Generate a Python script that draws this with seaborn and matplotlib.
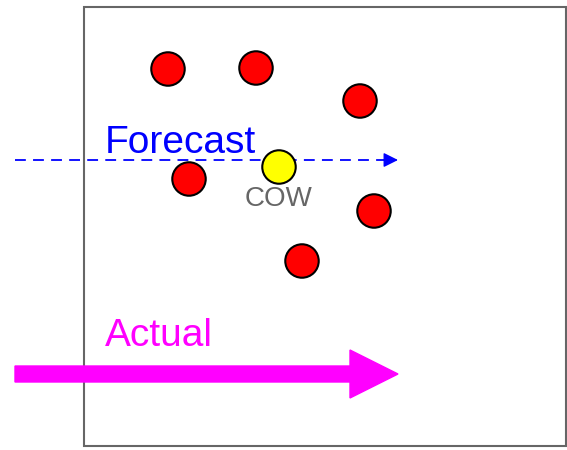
import pandas as pd
import matplotlib.pyplot as plt
import seaborn as sns
from matplotlib.patches import Rectangle

# -----------------------------
# Data (picture coordinates, pixels)
# -----------------------------
dot_x = [168, 256, 360, 189, 374, 302, 279]
dot_y = [69, 68, 101, 179, 211, 261, 167]
dot_kind = ["other"] * 6 + ["cow"]

forecast_y = 160
actual_y = 374
arrow_start = 15
arrow_end = 398

df = pd.DataFrame({"x": dot_x, "y": dot_y, "kind": dot_kind})

sns.set_style("white")
plt.rcParams["font.family"] = ["Liberation Sans", "DejaVu Sans"]

fig = plt.figure(figsize=(5.67, 4.5), dpi=100)
ax = fig.add_axes([0, 0, 1, 1])
ax.set_xlim(0, 567)
ax.set_ylim(450, 0)
ax.axis("off")

# box
ax.add_patch(Rectangle((84, 7), 482, 439, fill=False,
                       edgecolor="#666666", linewidth=1.5, zorder=1))

# forecast arrow (dashed)
ax.plot([arrow_start, arrow_end - 12], [forecast_y, forecast_y],
        color="#0000ff", linestyle=(0, (6, 4)), linewidth=1.3, zorder=2)
ax.annotate("", xy=(arrow_end, forecast_y),
            xytext=(arrow_end - 14, forecast_y),
            arrowprops=dict(arrowstyle="-|>", color="#0000ff",
                            mutation_scale=22, linewidth=1, shrinkA=0, shrinkB=0),
            zorder=2)

# actual arrow (thick)
ax.arrow(arrow_start, actual_y, arrow_end - arrow_start, 0,
         width=16, head_width=48, head_length=48,
         length_includes_head=True, color="#ff00ff", zorder=2)

# dots
sns.scatterplot(data=df, x="x", y="y", hue="kind",
                palette={"other": "#ff0000", "cow": "#ffff00"},
                s=580, edgecolor="black", linewidth=1.5,
                legend=False, ax=ax, zorder=3)

# labels
ax.text(105, 153, "Forecast", color="#0000ff", fontsize=28, zorder=4)
ax.text(105, 346, "Actual", color="#ff00ff", fontsize=28, zorder=4)
ax.text(245, 206, "COW", color="#666666", fontsize=20, zorder=4)

ax.set_xlim(0, 567)
ax.set_ylim(450, 0)

plt.savefig("out.png", dpi=100)
plt.close()
